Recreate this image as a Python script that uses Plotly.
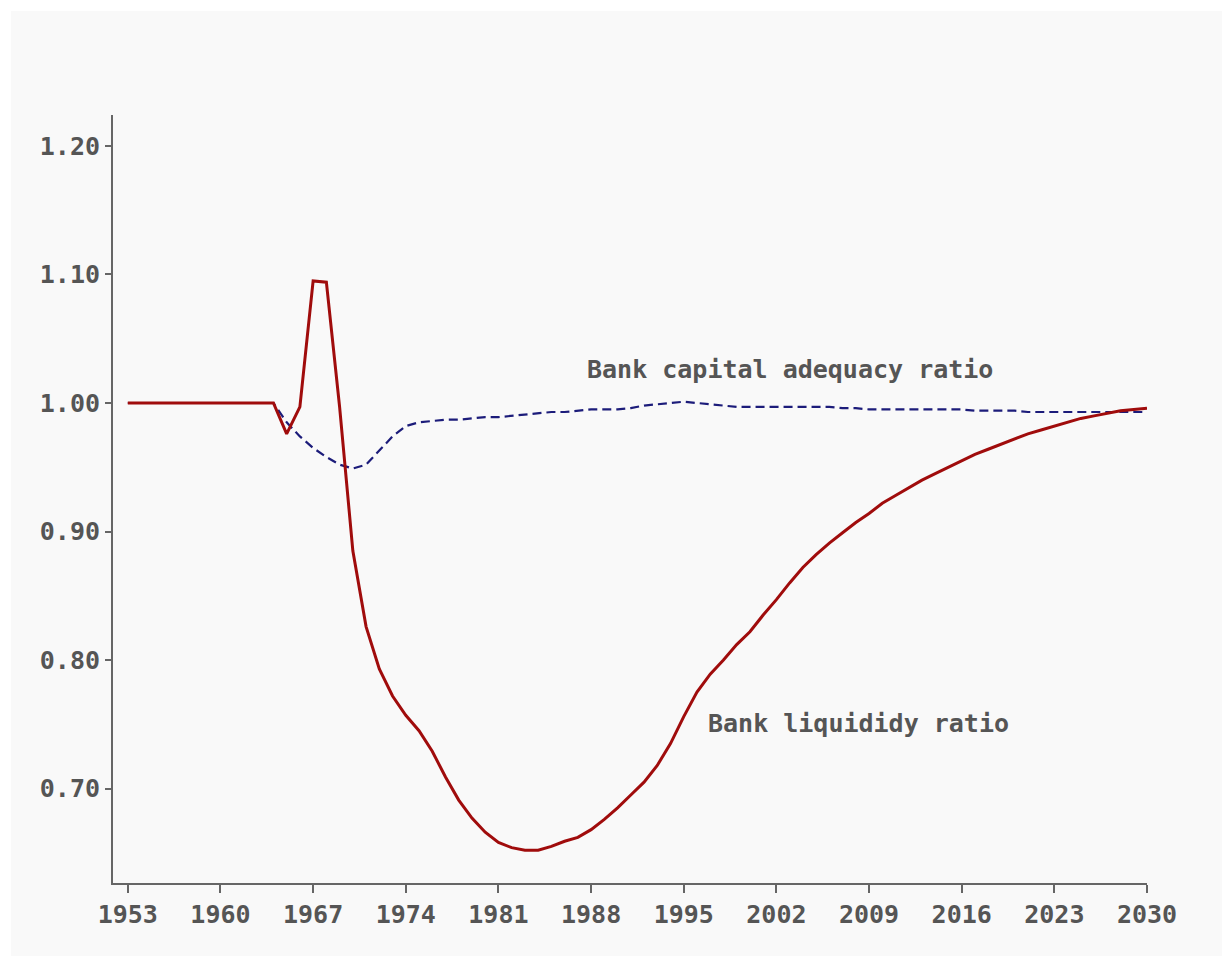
import plotly.graph_objects as go

# years on the horizontal axis
years = list(range(1953, 2031))

# Bank liquidity ratio (one value per year)
liquidity = [1.000] * 12 + [
    0.976, 0.997, 1.095, 1.094, 0.997, 0.885, 0.826, 0.793, 0.772, 0.757,  # 1965-1974
    0.745, 0.729, 0.709, 0.691, 0.677, 0.666, 0.658, 0.654, 0.652, 0.652,  # 1975-1984
    0.655, 0.659, 0.662, 0.668, 0.676, 0.685, 0.695, 0.705, 0.718, 0.735,  # 1985-1994
    0.756, 0.775, 0.789, 0.800, 0.812, 0.822, 0.835, 0.847, 0.860, 0.872,  # 1995-2004
    0.882, 0.891, 0.899, 0.907, 0.914, 0.922, 0.928, 0.934, 0.940, 0.945,  # 2005-2014
    0.950, 0.955, 0.960, 0.964, 0.968, 0.972, 0.976, 0.979, 0.982, 0.985,  # 2015-2024
    0.988, 0.990, 0.992, 0.994, 0.995, 0.996,                              # 2025-2030
]

# Bank capital adequacy ratio
capital = [1.000] * 12 + [
    0.985, 0.974, 0.965, 0.958, 0.952, 0.949, 0.952, 0.963, 0.974, 0.982,  # 1965-1974
    0.985, 0.986, 0.987, 0.987, 0.988, 0.989, 0.989, 0.990, 0.991, 0.992,  # 1975-1984
    0.993, 0.993, 0.994, 0.995, 0.995, 0.995, 0.996, 0.998, 0.999, 1.000,  # 1985-1994
    1.001, 1.000, 0.999, 0.998, 0.997, 0.997, 0.997, 0.997, 0.997, 0.997,  # 1995-2004
    0.997, 0.997, 0.996, 0.996, 0.995, 0.995, 0.995, 0.995, 0.995, 0.995,  # 2005-2014
    0.995, 0.995, 0.994, 0.994, 0.994, 0.994, 0.993, 0.993, 0.993, 0.993,  # 2015-2024
    0.993, 0.993, 0.993, 0.993, 0.993, 0.993,                              # 2025-2030
]

x_ticks = list(range(1953, 2031, 7))
y_ticks = [0.70, 0.80, 0.90, 1.00, 1.10, 1.20]

font_family = "DejaVu Sans Mono"
text_color = "#555555"

fig = go.Figure()
fig.add_trace(go.Scatter(x=years, y=capital, mode="lines",
                         line=dict(color="#1c1c7a", width=2.2, dash="9px,5px"),
                         name="Bank capital adequacy ratio"))
fig.add_trace(go.Scatter(x=years, y=liquidity, mode="lines",
                         line=dict(color="#a00c0c", width=3),
                         name="Bank liquidity ratio"))

# light grey panel behind everything, with a thin white border top/left
fig.add_shape(type="rect", xref="paper", yref="paper",
              x0=-0.0986, x1=1.2, y0=-0.2, y1=1.1354,
              fillcolor="#f9f9f9", line_width=0, layer="below")

fig.add_annotation(x=2003.0, y=1.0257, text="<b>Bank capital adequacy ratio</b>",
                   showarrow=False, font=dict(size=25, color=text_color, family=font_family))
fig.add_annotation(x=2008.2, y=0.751, text="<b>Bank liquididy ratio</b>",
                   showarrow=False, font=dict(size=25, color=text_color, family=font_family))

fig.update_layout(
    width=1222, height=948,
    margin=dict(l=105, r=83, t=107, b=73),
    paper_bgcolor="white",
    plot_bgcolor="rgba(0,0,0,0)",
    showlegend=False,
    font=dict(family=font_family, size=25, color=text_color),
)
tick_font = dict(family=font_family, size=25, color=text_color, weight="bold")
fig.update_xaxes(range=[1951.88, 2030.0], tickvals=x_ticks, tickfont=tick_font,
                 showgrid=False, zeroline=False,
                 showline=True, linecolor="#666666", linewidth=2,
                 ticks="outside", ticklen=8, tickcolor="#666666", tickwidth=2)
fig.update_yaxes(range=[0.6265, 1.2241], tickvals=y_ticks, tickformat=".2f", tickfont=tick_font,
                 showgrid=False, zeroline=False,
                 showline=True, linecolor="#666666", linewidth=2,
                 ticks="outside", ticklen=6, tickcolor="#666666", tickwidth=2)

fig.write_html("out.html")
